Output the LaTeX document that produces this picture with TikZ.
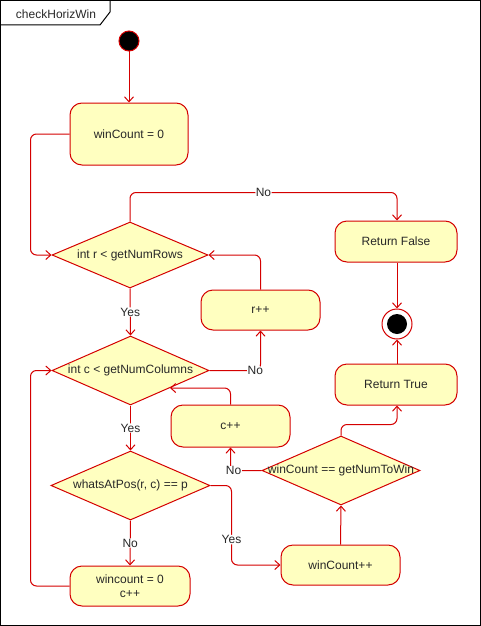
\documentclass[tikz,border=0pt]{standalone}
\usepackage{fontspec}
\setmainfont{Liberation Sans}
\usetikzlibrary{shapes.geometric,arrows.meta}
\definecolor{ured}{RGB}{212,0,0}
\definecolor{ufill}{RGB}{255,255,192}
\definecolor{utext}{RGB}{40,40,40}
\tikzset{
  every node/.style={font=\fontsize{12}{14}\selectfont, text=utext},
  action/.style={draw=ured, fill=ufill, rounded corners=12pt, line width=1pt,
    minimum width=#1, inner sep=0pt, align=center},
  decision/.style={draw=ured, fill=ufill, diamond, line width=1pt, inner sep=0pt},
  flow/.style={draw=ured, line width=1pt, rounded corners=6pt,
    -{Straight Barb[length=5pt,width=9pt]}},
  guard/.style={fill=white, inner sep=0.5pt}
}
\begin{document}
\begin{tikzpicture}[x=1pt, y=-1pt]
\useasboundingbox (0,0) rectangle (481,626);
% frame and title tab
\draw[line width=1pt] (0.5,0.5) rectangle (480.5,625.5);
\draw[line width=1pt] (0,25) -- (100,25) -- (110,12) -- (110,0);
\node (title) at (56,14) {checkHorizWin};

% initial and final states
\node[circle, fill=black, draw=ured, line width=1pt, minimum size=20pt, inner sep=0pt] (start) at (129,41) {};
\node[circle, fill=white, draw=ured, line width=1pt, minimum size=30pt, inner sep=0pt] (fin) at (397,324) {};
\node[circle, fill=black, minimum size=20pt, inner sep=0pt] (finin) at (fin.center) {};

% actions
\node[action=118pt, minimum height=62pt] (w0) at (129,134) {winCount = 0};
\node[action=122pt, minimum height=41pt] (rf) at (396,241.5) {Return False};
\node[action=122pt, minimum height=41pt] (rt) at (396,384.5) {Return True};
\node[action=119pt, minimum height=40pt] (rpp) at (260.5,310) {r++};
\node[action=119pt, minimum height=42pt] (cpp) at (230.5,426) {c++};
\node[action=120pt, minimum height=40pt] (wc0) at (130,586) {wincount = 0\\c++};
\node[action=119pt, minimum height=40pt] (wpp) at (340.5,565) {winCount++};

% decisions
\node[decision, minimum width=156pt, minimum height=66pt] (dr) at (130,255) {};
\node at (dr.center) {int r < getNumRows};
\node[decision, minimum width=157pt, minimum height=69pt] (dc) at (130.5,370.5) {};
\node at (dc.center) {int c < getNumColumns};
\node[decision, minimum width=159pt, minimum height=69pt] (wp) at (130.5,485.5) {};
\node at (wp.center) {whatsAtPos(r, c) == p};
\node[decision, minimum width=158pt, minimum height=69pt] (dw) at (341,470.5) {};
\node at (dw.center) {winCount == getNumToWin};

% control flow
\draw[flow] (start) -- (w0);
\draw[flow] (w0.west) -- ++(-39,0) |- (dr.west);
\draw[flow] (dr.north) -- ++(0,-29) -| node[pos=0.25, guard] {No} ([xshift=1pt]rf.north);
\draw[flow] ([xshift=1pt]rf.south) -- (fin);
\draw[flow] ([xshift=1pt]rt.north) -- (fin);
\draw[flow] (rpp.north) |- (dr.east);
\draw[flow] (dr.south) -- node[pos=0.5, guard] {Yes} (dc.north);
\draw[flow] (dc.east) -| node[pos=0.45, guard] {No} (rpp.south);
\draw[flow] (cpp.north) |- (dc.south east);
\draw[flow] (dc.south) -- node[pos=0.5, guard] {Yes} (wp.north);
\draw[flow] (wp.east) -- ++(21,0) |- node[pos=0.34, guard] {Yes} (wpp.west);
\draw[flow] (wp.south) -- node[pos=0.5, guard] {No} (wc0.north);
\draw[flow] (wc0.west) -- ++(-39,0) |- (dc.west);
\draw[flow] (wpp.north) -- (dw.south);
\draw[flow] (dw.west) -| node[pos=0.45, guard] {No} (cpp.south);
\draw[flow] (dw.north) -- ++(0,-11) -| ([xshift=1pt]rt.south);
\end{tikzpicture}
\end{document}
